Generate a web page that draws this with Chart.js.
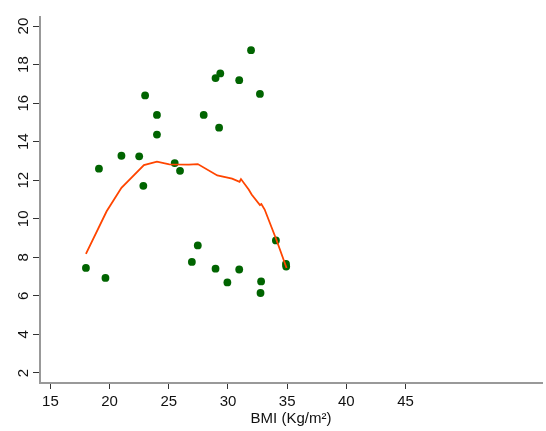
<!DOCTYPE html>
<html>
<head>
<meta charset="utf-8">
<script src="https://cdn.jsdelivr.net/npm/chart.js@4.4.0/dist/chart.umd.min.js"></script>
<style>
  html, body { margin: 0; padding: 0; background: #fff; }
</style>
</head>
<body>
<canvas id="myChart" width="546" height="431"></canvas>
<script>
// observed points
const bmi   = [18.0, 19.65, 19.1, 21.0, 22.5, 22.85, 23.0, 24.0, 24.0, 25.5, 25.95, 26.95, 27.45, 27.95, 28.95, 29.35, 29.25, 28.95, 29.95, 30.95, 30.95, 31.95, 32.7, 32.8, 32.75, 34.05, 34.9, 34.92];
const score = [7.45, 6.93, 12.6, 13.27, 13.24, 11.71, 16.4, 15.39, 14.37, 12.89, 12.49, 7.76, 8.62, 15.39, 17.3, 17.54, 14.73, 7.41, 6.70, 17.19, 7.37, 18.75, 16.48, 6.75, 6.15, 8.88, 7.66, 7.52];

// smoothed curve
const fitBmi   = [18.0, 19.75, 21.0, 22.9, 24.0, 25.05, 26.7, 27.45, 29.1, 30.35, 30.98, 31.1, 31.75, 32.0, 32.7, 32.82, 33.1, 34.1, 34.95];
const fitScore = [8.18, 10.39, 11.61, 12.79, 12.96, 12.82, 12.81, 12.84, 12.25, 12.08, 11.92, 12.06, 11.52, 11.26, 10.71, 10.76, 10.48, 8.9, 7.45];

const xTicks = [15, 20, 25, 30, 35, 40, 45];
const yTicks = [2, 4, 6, 8, 10, 12, 14, 16, 18, 20];

const tickFont = { family: 'Liberation Sans, Arial, sans-serif', size: 15 };

const points = bmi.map((b, i) => ({ x: b, y: score[i] }));
const curve = fitBmi.map((b, i) => ({ x: b, y: fitScore[i] }));

const ctx = document.getElementById('myChart').getContext('2d');

new Chart(ctx, {
  type: 'scatter',
  data: {
    datasets: [
      {
        data: curve,
        showLine: true,
        borderColor: '#ff4500',
        borderWidth: 1.8,
        pointRadius: 0,
        tension: 0,
        fill: false
      },
      {
        data: points,
        backgroundColor: '#006400',
        borderColor: '#006400',
        borderWidth: 0,
        pointRadius: 3.9
      }
    ]
  },
  options: {
    responsive: false,
    animation: false,
    devicePixelRatio: 1,
    layout: { padding: { top: 17, left: 0, right: 0, bottom: 0 } },
    plugins: {
      legend: { display: false },
      tooltip: { enabled: false }
    },
    scales: {
      x: {
        type: 'linear',
        min: 14.12,
        max: 56.53,
        afterBuildTicks: (scale) => { scale.ticks = xTicks.map(v => ({ value: v })); },
        afterFit: (scale) => { scale.height = 48; },
        grid: { drawOnChartArea: false, tickLength: 6, tickColor: '#333', tickWidth: 1 },
        border: { display: true, color: '#999', width: 2 },
        ticks: { color: '#111', font: tickFont, padding: 4, maxRotation: 0, autoSkip: false },
        title: {
          display: true,
          text: 'BMI (Kg/m²)',
          color: '#111',
          font: tickFont,
          padding: { top: 0, bottom: 3 }
        }
      },
      y: {
        type: 'linear',
        min: 1.48,
        max: 20.47,
        afterBuildTicks: (scale) => { scale.ticks = yTicks.map(v => ({ value: v })); },
        afterFit: (scale) => { scale.width = 40; },
        grid: { drawOnChartArea: false, tickLength: 7, tickColor: '#333', tickWidth: 1 },
        border: { display: true, color: '#999', width: 2 },
        ticks: { color: '#111', font: tickFont, padding: 1, minRotation: 90, maxRotation: 90, crossAlign: 'center', autoSkip: false }
      }
    }
  }
});
</script>
</body>
</html>
